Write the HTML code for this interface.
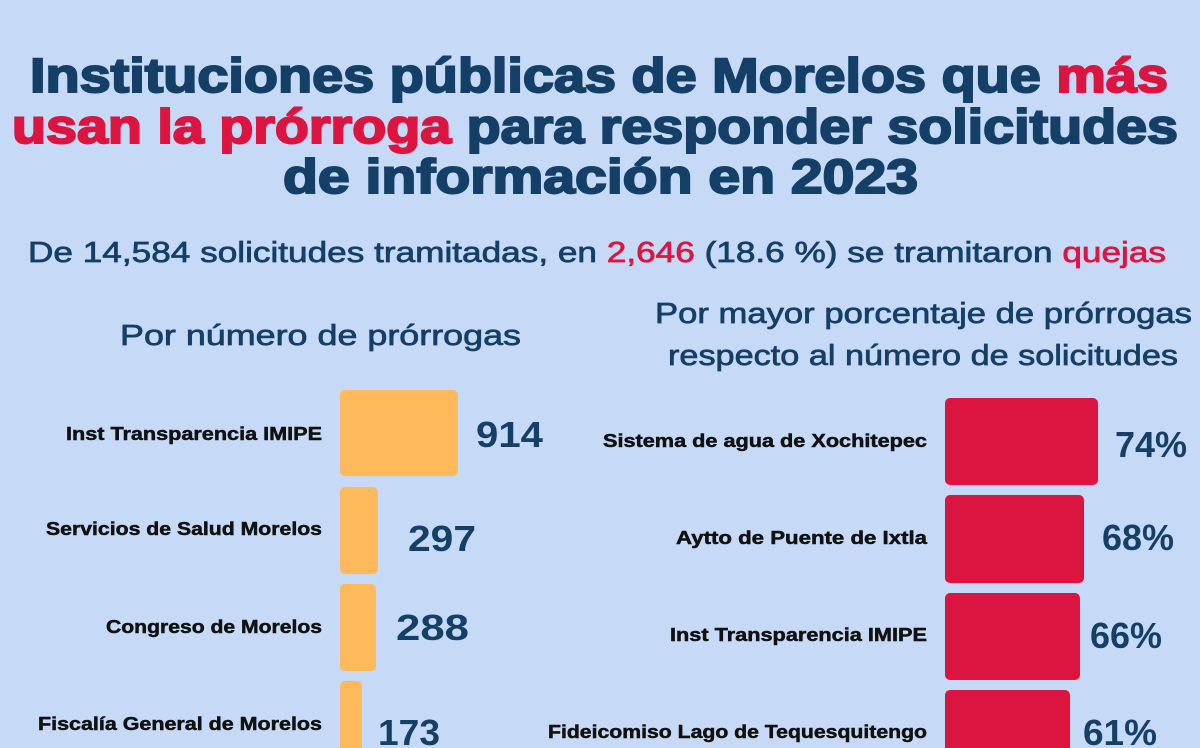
<!DOCTYPE html>
<html><head><meta charset="utf-8"><style>
html,body{margin:0;padding:0;background:#c6daf7;}
svg{display:block}
.t{font-family:"Liberation Sans",sans-serif;font-weight:900;font-size:48px;fill:#143f66;stroke:#143f66;stroke-width:2px}
.r{fill:#dc1440;stroke:#dc1440}
.s{font-family:"Liberation Sans",sans-serif;font-size:29px;fill:#143f66;stroke:#143f66;stroke-width:0.7px}
.l{font-family:"Liberation Sans",sans-serif;font-weight:bold;font-size:18px;fill:#111;stroke:#111;stroke-width:0.5px}
.n{font-family:"Liberation Sans",sans-serif;font-weight:bold;font-size:36px;fill:#143f66}
</style></head><body>
<svg width="1200" height="748" viewBox="0 0 1200 748">
<rect width="1200" height="748" fill="#c6daf7"/>
<text class="t" x="30" y="92" textLength="1138" lengthAdjust="spacingAndGlyphs">Instituciones públicas de Morelos que <tspan class="r">más</tspan></text>
<text class="t" x="12" y="143" textLength="1166" lengthAdjust="spacingAndGlyphs"><tspan class="r">usan la prórroga</tspan> para responder solicitudes</text>
<text class="t" x="283" y="193" textLength="635" lengthAdjust="spacingAndGlyphs">de información en 2023</text>
<text class="s" x="28" y="262" textLength="1138" lengthAdjust="spacingAndGlyphs">De 14,584 solicitudes tramitadas, en <tspan fill="#dc1440" stroke="#dc1440">2,646</tspan> (18.6 %) se tramitaron <tspan fill="#dc1440" stroke="#dc1440">quejas</tspan></text>
<text class="s" x="120" y="345" textLength="401" lengthAdjust="spacingAndGlyphs">Por número de prórrogas</text>
<text class="s" x="655" y="323" textLength="537" lengthAdjust="spacingAndGlyphs">Por  mayor porcentaje de prórrogas</text>
<text class="s" x="668" y="365" textLength="510" lengthAdjust="spacingAndGlyphs">respecto al número de solicitudes</text>
<g fill="#fdb95a">
<rect x="340" y="390" width="118" height="86" rx="5"/>
<rect x="340" y="487" width="38" height="87" rx="5"/>
<rect x="340" y="584" width="36" height="87" rx="5"/>
<rect x="340" y="681" width="22" height="80" rx="5"/>
</g>
<g class="l">
<text x="66" y="440" textLength="256" lengthAdjust="spacingAndGlyphs">Inst Transparencia IMIPE</text>
<text x="46" y="535" textLength="276" lengthAdjust="spacingAndGlyphs">Servicios de Salud Morelos</text>
<text x="106" y="633" textLength="216" lengthAdjust="spacingAndGlyphs">Congreso de Morelos</text>
<text x="38" y="730" textLength="284" lengthAdjust="spacingAndGlyphs">Fiscalía General de Morelos</text>
</g>
<text class="n" x="476" y="447" textLength="67" lengthAdjust="spacingAndGlyphs">914</text>
<text class="n" x="408" y="551" textLength="68" lengthAdjust="spacingAndGlyphs">297</text>
<text class="n" x="396" y="640" textLength="73" lengthAdjust="spacingAndGlyphs">288</text>
<text class="n" x="378" y="745" textLength="62" lengthAdjust="spacingAndGlyphs">173</text>
<g fill="#dc1440">
<rect x="945" y="398" width="153" height="87" rx="5"/>
<rect x="945" y="495" width="139" height="88" rx="5"/>
<rect x="945" y="593" width="135" height="87" rx="5"/>
<rect x="945" y="690" width="125" height="80" rx="5"/>
</g>
<g class="l">
<text x="603" y="447" textLength="324" lengthAdjust="spacingAndGlyphs">Sistema de agua de Xochitepec</text>
<text x="676" y="544" textLength="251" lengthAdjust="spacingAndGlyphs">Aytto de Puente de Ixtla</text>
<text x="670" y="641" textLength="257" lengthAdjust="spacingAndGlyphs">Inst Transparencia IMIPE</text>
<text x="548" y="738" textLength="379" lengthAdjust="spacingAndGlyphs">Fideicomiso Lago de Tequesquitengo</text>
</g>
<text class="n" x="1115" y="457" textLength="72" lengthAdjust="spacingAndGlyphs">74%</text>
<text class="n" x="1102" y="550" textLength="72" lengthAdjust="spacingAndGlyphs">68%</text>
<text class="n" x="1090" y="648" textLength="72" lengthAdjust="spacingAndGlyphs">66%</text>
<text class="n" x="1083" y="745" textLength="74" lengthAdjust="spacingAndGlyphs">61%</text>
</svg>
</body></html>
